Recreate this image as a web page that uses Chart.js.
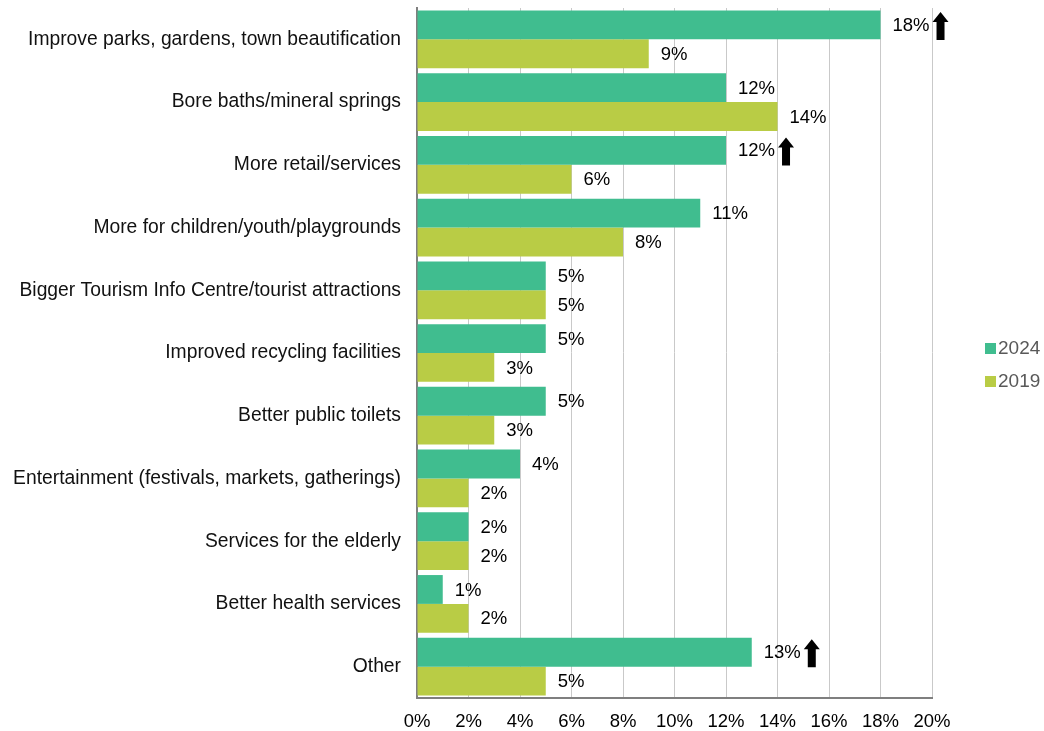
<!DOCTYPE html>
<html><head><meta charset="utf-8">
<script src="https://cdn.jsdelivr.net/npm/chart.js@4"></script>
<style>html,body{margin:0;padding:0;background:#fff}#w{width:1044px;height:731px}</style>
</head><body><div id="w"><canvas id="c" width="1044" height="731"></canvas></div>
<script>
const categories = ["Improve parks, gardens, town beautification","Bore baths/mineral springs","More retail/services","More for children/youth/playgrounds","Bigger Tourism Info Centre/tourist attractions","Improved recycling facilities","Better public toilets","Entertainment (festivals, markets, gatherings)","Services for the elderly","Better health services","Other"];
const values2024 = [18,12,12,11,5,5,5,4,2,1,13];
const values2019 = [9,14,6,8,5,3,3,2,2,2,5];
const arrows2024 = [true,false,true,false,false,false,false,false,false,false,true];
const xTicks = [0,2,4,6,8,10,12,14,16,18,20];
const FONT = "'Liberation Sans', Arial, sans-serif";

const labelPlugin = {
  id:'labels',
  afterDatasetsDraw(chart){
    const ctx = chart.ctx;
    ctx.save();
    ctx.font = "18.5px " + FONT;
    ctx.fillStyle = "#000";
    ctx.textBaseline = "middle";
    ctx.textAlign = "left";
    chart.data.datasets.forEach((ds,di)=>{
      const meta = chart.getDatasetMeta(di);
      meta.data.forEach((bar,i)=>{
        const t = ds.data[i] + "%";
        const x = bar.x + 12, y = bar.y + 1;
        ctx.fillText(t, x, y);
        if (di===0 && arrows2024[i]) {
          const w = ctx.measureText(t).width;
          const ax = x + w + 11, top = y - 14, bot = y + 14;
          ctx.beginPath();
          ctx.moveTo(ax, top);
          ctx.lineTo(ax+8, top+10);
          ctx.lineTo(ax+4, top+10);
          ctx.lineTo(ax+4, bot);
          ctx.lineTo(ax-4, bot);
          ctx.lineTo(ax-4, top+10);
          ctx.lineTo(ax-8, top+10);
          ctx.closePath();
          ctx.fill();
        }
      });
    });
    // legend
    ctx.font = "19px " + FONT;
    const items = chart.data.datasets;
    items.forEach((ds,i)=>{
      const y = 348 + i*33;
      ctx.fillStyle = ds.backgroundColor;
      ctx.fillRect(985, y-5, 11, 11);
      ctx.fillStyle = "#595959";
      ctx.fillText(ds.label, 998, y+1);
    });
    ctx.restore();
  }
};

new Chart(document.getElementById('c'), {
  type:'bar',
  data:{
    labels:categories,
    datasets:[
      {label:'2024', data:values2024, backgroundColor:'#40BD8F', categoryPercentage:0.92, barPercentage:1.0},
      {label:'2019', data:values2019, backgroundColor:'#B9CC45', categoryPercentage:0.92, barPercentage:1.0}
    ]
  },
  options:{
    indexAxis:'y',
    responsive:false,
    animation:false,
    layout:{padding:{left:0,right:112,top:8,bottom:0}},
    plugins:{legend:{display:false},tooltip:{enabled:false}},
    scales:{
      x:{
        min:0,max:20,
        afterBuildTicks(s){ s.ticks = xTicks.map(v=>({value:v})); },
        afterFit(s){ s.height = 33; s.paddingLeft = 0; s.paddingRight = 0; },
        ticks:{callback:v=>v+'%', font:{size:18.5,family:FONT}, color:'#000', padding:13, maxRotation:0},
        grid:{color:'#c9c9c9', lineWidth:1, drawTicks:false},
        border:{color:'#7f7f7f', width:2}
      },
      y:{
        afterFit(s){ s.width = 417; s.paddingTop = 0; s.paddingBottom = 0; },
        ticks:{font:{size:19.3,family:FONT}, color:'#111', padding:16, autoSkip:false},
        grid:{display:false, drawTicks:false},
        border:{color:'#7f7f7f', width:2}
      }
    }
  },
  plugins:[labelPlugin]
});
</script></body></html>
